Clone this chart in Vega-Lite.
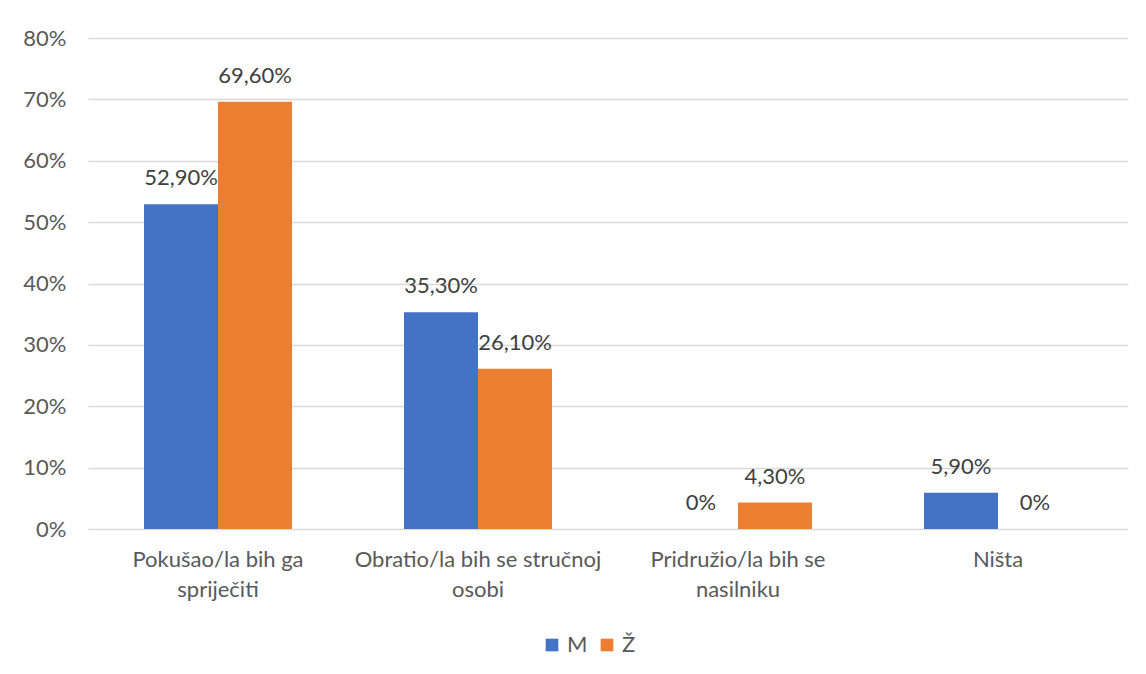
{
  "$schema": "https://vega.github.io/schema/vega-lite/v6.json",
  "autosize": "none",
  "width": 1040,
  "height": 491,
  "padding": {"left": 88, "top": 38, "right": 18, "bottom": 145},
  "background": "white",
  "config": {
    "font": "Lato",
    "view": {"stroke": null},
    "locale": {"number": {"decimal": ",", "thousands": ".", "grouping": [3], "currency": ["", " €"]}}
  },
  "data": {
    "values": [
      {"kategorija": "Pokušao/la bih ga spriječiti", "spol": "M", "value": 0.529},
      {"kategorija": "Pokušao/la bih ga spriječiti", "spol": "Ž", "value": 0.696},
      {"kategorija": "Obratio/la bih se stručnoj osobi", "spol": "M", "value": 0.353},
      {"kategorija": "Obratio/la bih se stručnoj osobi", "spol": "Ž", "value": 0.261},
      {"kategorija": "Pridružio/la bih se nasilniku", "spol": "M", "value": 0},
      {"kategorija": "Pridružio/la bih se nasilniku", "spol": "Ž", "value": 0.043},
      {"kategorija": "Ništa", "spol": "M", "value": 0.059},
      {"kategorija": "Ništa", "spol": "Ž", "value": 0}
    ]
  },
  "encoding": {
    "x": {
      "field": "kategorija",
      "type": "nominal",
      "sort": null,
      "scale": {"paddingInner": 0.4308, "paddingOuter": 0.2154},
      "axis": {
        "title": null,
        "labelAngle": 0,
        "domain": false,
        "ticks": false,
        "labelFontSize": 22,
        "labelColor": "#595959",
        "labelPadding": 30,
        "labelLineHeight": 30,
        "labelLimit": 0,
        "labelBaseline": "middle",
        "labelExpr": "datum.value == 'Pokušao/la bih ga spriječiti' ? ['Pokušao/la bih ga', 'spriječiti'] : datum.value == 'Obratio/la bih se stručnoj osobi' ? ['Obratio/la bih se stručnoj', 'osobi'] : datum.value == 'Pridružio/la bih se nasilniku' ? ['Pridružio/la bih se', 'nasilniku'] : datum.value"
      }
    },
    "xOffset": {"field": "spol", "type": "nominal", "scale": {"paddingInner": 0, "paddingOuter": 0}},
    "y": {
      "field": "value",
      "type": "quantitative",
      "scale": {"domain": [0, 0.8], "nice": false},
      "axis": {
        "title": null,
        "format": ".0%",
        "values": [0, 0.1, 0.2, 0.3, 0.4, 0.5, 0.6, 0.7, 0.8],
        "labelOverlap": false,
        "domain": false,
        "ticks": false,
        "gridColor": "#D9D9D9",
        "gridWidth": 1.3,
        "labelFontSize": 22,
        "labelColor": "#595959",
        "labelPadding": 22
      }
    }
  },
  "layer": [
    {
      "mark": {"type": "bar"},
      "encoding": {
        "color": {
          "field": "spol",
          "type": "nominal",
          "scale": {"domain": ["M", "Ž"], "range": ["#4472C4", "#ED7D31"]},
          "legend": {
            "title": null,
            "orient": "none",
            "legendX": 453,
            "legendY": 596,
            "direction": "horizontal",
            "symbolType": "square",
            "symbolSize": 160,
            "symbolStrokeWidth": 0,
            "labelFontSize": 22,
            "labelColor": "#595959",
            "labelOffset": 4,
            "columnPadding": 8
          }
        }
      }
    },
    {
      "mark": {"type": "text", "dy": -26, "fontSize": 22, "color": "#404040"},
      "encoding": {
        "text": {
          "condition": {"test": "datum.value === 0", "value": "0%"},
          "field": "value",
          "type": "quantitative",
          "format": ".2%"
        }
      }
    }
  ]
}
